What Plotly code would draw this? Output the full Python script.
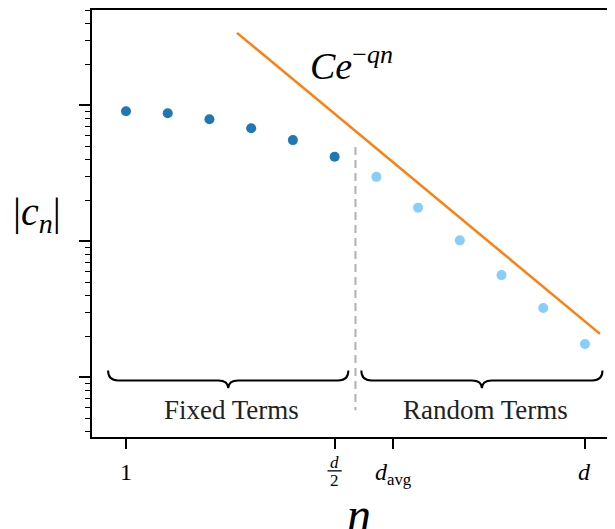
import plotly.graph_objects as go

# ---- data ----
n_fixed = [1, 2, 3, 4, 5, 6]
c_fixed = [0.904, 0.874, 0.79, 0.679, 0.555, 0.419]
n_random = [7, 8, 9, 10, 11, 12]
c_random = [0.298, 0.177, 0.1017, 0.0565, 0.0324, 0.0176]
bound_n = [3.66, 12.36]
bound_c = [3.41, 0.0209]
split_n = [6.5, 6.5]
split_c = [0.4935, 0.00574]
tick_vals = [1, 6, 7.4, 12]
tick_text = ["1", None, "<i>d</i><sub>avg</sub>", "<i>d</i>"]
frac_n = 6
frac_top = "<i>d</i>"
frac_bottom = "2"
group_names = ["Fixed Terms", "Random Terms"]
group_start = [0.57, 6.64]
group_end = [6.33, 12.42]

SERIF = "Liberation Serif, DejaVu Serif, serif"
DARK = "#1f77b4"
LIGHT = "#87cefa"
ORANGE = "#ff7f0e"

fig = go.Figure()
fig.add_trace(go.Scatter(x=split_n, y=split_c, mode="lines",
                         line=dict(color="#b0b0b0", width=2, dash="8px,5px"),
                         hoverinfo="skip"))
fig.add_trace(go.Scatter(x=bound_n, y=bound_c, mode="lines",
                         line=dict(color=ORANGE, width=2.5)))
fig.add_trace(go.Scatter(x=n_fixed, y=c_fixed, mode="markers",
                         marker=dict(color=DARK, size=10)))
fig.add_trace(go.Scatter(x=n_random, y=c_random, mode="markers",
                         marker=dict(color=LIGHT, size=10)))

# braces (x in data units, y in paper units)
tip, hor, cusp = 0.1558, 0.1326, 0.114
r = 0.24
shapes = []
annotations = []
for name, x0, x1 in zip(group_names, group_start, group_end):
    m = (x0 + x1) / 2
    path = (f"M {x0},{tip} Q {x0},{hor} {x0 + r},{hor} L {m - r},{hor} "
            f"Q {m},{hor} {m},{cusp} Q {m},{hor} {m + r},{hor} "
            f"L {x1 - r},{hor} Q {x1},{hor} {x1},{tip}")
    shapes.append(dict(type="path", path=path, xref="x", yref="paper",
                       line=dict(color="black", width=2)))
    annotations.append(dict(text=name, x=m + 0.08, y=0.063, xref="x", yref="paper",
                            showarrow=False, xanchor="center", yanchor="middle",
                            font=dict(family=SERIF, size=27, color="#222")))

# x tick labels placed under their ticks
for v, t in zip(tick_vals, tick_text):
    if t is None:
        continue
    yy = -0.086 if "sub" in t else -0.0816
    annotations.append(dict(text=t, x=v, y=yy, xref="x", yref="paper",
                            showarrow=False, xanchor="center", yanchor="middle",
                            font=dict(family=SERIF, size=24, color="black")))

# stacked fraction tick label d/2
annotations.append(dict(text=frac_top, x=frac_n, y=-0.0606, xref="x", yref="paper",
                        showarrow=False, xanchor="center", yanchor="middle",
                        font=dict(family=SERIF, size=17, color="black")))
annotations.append(dict(text=frac_bottom, x=frac_n, y=-0.1026, xref="x", yref="paper",
                        showarrow=False, xanchor="center", yanchor="middle",
                        font=dict(family=SERIF, size=17, color="black")))
shapes.append(dict(type="line", xref="x", yref="paper", x0=frac_n - 0.17, x1=frac_n + 0.17,
                   y0=-0.0793, y1=-0.0793, line=dict(color="black", width=1.3)))

annotations.append(dict(text="<i>Ce</i><sup><span style='font-size:26px'>\u2212<i>qn</i></span></sup>",
                        x=6.4, y=0.874, xref="x", yref="paper", showarrow=False,
                        xanchor="center", yanchor="middle",
                        font=dict(family=SERIF, size=38, color="black")))
annotations.append(dict(text="|<i>c</i><sub><i>n</i></sub>|", x=-0.105, y=0.522,
                        xref="paper", yref="paper", showarrow=False,
                        xanchor="center", yanchor="middle",
                        font=dict(family=SERIF, size=40, color="black")))
annotations.append(dict(text="<i>n</i>", x=0.51, y=-0.182,
                        xref="paper", yref="paper", showarrow=False,
                        xanchor="center", yanchor="middle",
                        font=dict(family=SERIF, size=48, color="black")))

minor_vals = [k * 10.0 ** e for e in (-3, -2, -1, 0) for k in range(2, 10)]

fig.update_layout(
    width=607, height=521,
    margin=dict(l=84, r=0, t=0, b=92),
    paper_bgcolor="white", plot_bgcolor="white",
    showlegend=False,
    shapes=shapes, annotations=annotations,
    xaxis=dict(range=[0.185, 12.72], showgrid=False, zeroline=False,
               showline=True, mirror=True, linecolor="black", linewidth=1.5,
               ticks="outside", ticklen=10, tickwidth=1.5, tickcolor="black",
               tickmode="array", tickvals=tick_vals, showticklabels=False),
    yaxis=dict(type="log", range=[-2.438, 0.7007], showgrid=False, zeroline=False,
               showline=True, linecolor="black", linewidth=1.5,
               ticks="outside", ticklen=11, tickwidth=1.5, tickcolor="black",
               tickmode="array", tickvals=[0.001, 0.01, 0.1, 1, 10],
               showticklabels=False,
               minor=dict(tickmode="array", tickvals=minor_vals, ticks="outside",
                          ticklen=5.5, tickwidth=1.2, tickcolor="black",
                          showgrid=False)),
)

fig.write_html("out.html")
